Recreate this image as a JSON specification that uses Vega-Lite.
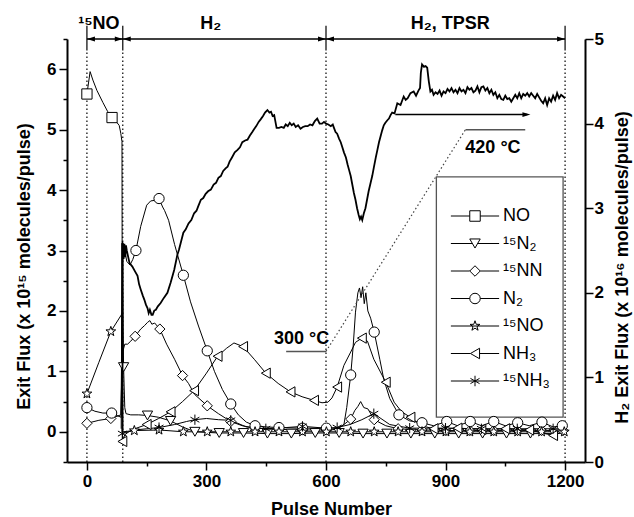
{
  "$schema": "https://vega.github.io/schema/vega-lite/v6.json",
  "width": 518,
  "height": 423,
  "autosize": {"type": "none"},
  "padding": {"left": 67, "top": 39, "right": 49, "bottom": 55},
  "config": {
    "view": {"stroke": null},
    "axis": {"domainColor": "black", "domainWidth": 2, "tickColor": "black", "tickWidth": 1.5, "labelFont": "Liberation Sans", "labelFontSize": 17, "labelFontWeight": "bold", "labelColor": "black", "titleFont": "Liberation Sans", "titleFontSize": 18, "titleFontWeight": "bold", "titleColor": "black", "grid": false}
  },
  "datasets": {
    "series": [
      {"s":"NO","x":0,"y":5.59,"m":1},{"s":"NO","x":8,"y":5.96,"m":0},{"s":"NO","x":15,"y":5.82,"m":0},{"s":"NO","x":25,"y":5.65,"m":0},{"s":"NO","x":40,"y":5.45,"m":0},{"s":"NO","x":52,"y":5.3,"m":0},{"s":"NO","x":63,"y":5.2,"m":1},{"s":"NO","x":75,"y":5.12,"m":0},{"s":"NO","x":81,"y":5.07,"m":0},{"s":"NO","x":85,"y":4.94,"m":0},{"s":"NO","x":88,"y":4.8,"m":0},{"s":"NO","x":89,"y":-0.15,"m":0},
      {"s":"¹⁵N₂","x":86,"y":0.05,"m":0},{"s":"¹⁵N₂","x":88,"y":3.12,"m":0},{"s":"¹⁵N₂","x":90,"y":2.2,"m":0},{"s":"¹⁵N₂","x":92,"y":1.07,"m":1},{"s":"¹⁵N₂","x":95,"y":0.4,"m":0},{"s":"¹⁵N₂","x":98,"y":0.3,"m":0},{"s":"¹⁵N₂","x":110,"y":0.28,"m":0},{"s":"¹⁵N₂","x":130,"y":0.28,"m":0},{"s":"¹⁵N₂","x":152,"y":0.27,"m":1},{"s":"¹⁵N₂","x":180,"y":0.24,"m":0},{"s":"¹⁵N₂","x":210,"y":0.18,"m":1},{"s":"¹⁵N₂","x":240,"y":0.08,"m":0},{"s":"¹⁵N₂","x":271,"y":0.0,"m":1},{"s":"¹⁵N₂","x":302,"y":-0.01,"m":0},{"s":"¹⁵N₂","x":332,"y":-0.02,"m":1},{"s":"¹⁵N₂","x":393,"y":-0.02,"m":1},{"s":"¹⁵N₂","x":453,"y":-0.03,"m":1},{"s":"¹⁵N₂","x":513,"y":-0.03,"m":1},{"s":"¹⁵N₂","x":573,"y":-0.02,"m":1},{"s":"¹⁵N₂","x":633,"y":-0.02,"m":1},{"s":"¹⁵N₂","x":693,"y":-0.03,"m":1},{"s":"¹⁵N₂","x":753,"y":-0.03,"m":1},{"s":"¹⁵N₂","x":813,"y":-0.03,"m":1},{"s":"¹⁵N₂","x":873,"y":-0.03,"m":1},{"s":"¹⁵N₂","x":933,"y":-0.03,"m":1},{"s":"¹⁵N₂","x":993,"y":-0.03,"m":1},{"s":"¹⁵N₂","x":1053,"y":-0.03,"m":1},{"s":"¹⁵N₂","x":1113,"y":-0.03,"m":1},{"s":"¹⁵N₂","x":1173,"y":-0.03,"m":1},{"s":"¹⁵N₂","x":1200,"y":-0.02,"m":0},
      {"s":"¹⁵NN","x":0,"y":0.14,"m":1},{"s":"¹⁵NN","x":30,"y":0.19,"m":0},{"s":"¹⁵NN","x":60,"y":0.22,"m":1},{"s":"¹⁵NN","x":85,"y":0.28,"m":0},{"s":"¹⁵NN","x":89,"y":1.3,"m":0},{"s":"¹⁵NN","x":95,"y":1.45,"m":0},{"s":"¹⁵NN","x":102,"y":1.45,"m":0},{"s":"¹⁵NN","x":110,"y":1.5,"m":0},{"s":"¹⁵NN","x":121,"y":1.58,"m":1},{"s":"¹⁵NN","x":135,"y":1.7,"m":0},{"s":"¹⁵NN","x":145,"y":1.76,"m":0},{"s":"¹⁵NN","x":152,"y":1.81,"m":0},{"s":"¹⁵NN","x":158,"y":1.84,"m":0},{"s":"¹⁵NN","x":163,"y":1.78,"m":0},{"s":"¹⁵NN","x":170,"y":1.8,"m":0},{"s":"¹⁵NN","x":183,"y":1.7,"m":1},{"s":"¹⁵NN","x":200,"y":1.45,"m":0},{"s":"¹⁵NN","x":220,"y":1.2,"m":0},{"s":"¹⁵NN","x":240,"y":0.93,"m":1},{"s":"¹⁵NN","x":255,"y":0.8,"m":0},{"s":"¹⁵NN","x":270,"y":0.62,"m":0},{"s":"¹⁵NN","x":302,"y":0.43,"m":1},{"s":"¹⁵NN","x":330,"y":0.3,"m":0},{"s":"¹⁵NN","x":361,"y":0.17,"m":1},{"s":"¹⁵NN","x":390,"y":0.1,"m":0},{"s":"¹⁵NN","x":422,"y":0.06,"m":1},{"s":"¹⁵NN","x":482,"y":0.04,"m":1},{"s":"¹⁵NN","x":541,"y":0.03,"m":1},{"s":"¹⁵NN","x":601,"y":0.03,"m":1},{"s":"¹⁵NN","x":630,"y":0.05,"m":0},{"s":"¹⁵NN","x":645,"y":0.12,"m":0},{"s":"¹⁵NN","x":662,"y":0.21,"m":1},{"s":"¹⁵NN","x":672,"y":0.35,"m":0},{"s":"¹⁵NN","x":680,"y":0.42,"m":0},{"s":"¹⁵NN","x":687,"y":0.5,"m":0},{"s":"¹⁵NN","x":695,"y":0.4,"m":0},{"s":"¹⁵NN","x":705,"y":0.38,"m":0},{"s":"¹⁵NN","x":721,"y":0.2,"m":1},{"s":"¹⁵NN","x":750,"y":0.1,"m":0},{"s":"¹⁵NN","x":781,"y":0.05,"m":1},{"s":"¹⁵NN","x":841,"y":0.03,"m":1},{"s":"¹⁵NN","x":901,"y":0.02,"m":1},{"s":"¹⁵NN","x":961,"y":0.02,"m":1},{"s":"¹⁵NN","x":1021,"y":0.02,"m":1},{"s":"¹⁵NN","x":1081,"y":0.02,"m":1},{"s":"¹⁵NN","x":1141,"y":0.02,"m":1},{"s":"¹⁵NN","x":1195,"y":0.02,"m":1},
      {"s":"N₂","x":0,"y":0.4,"m":1},{"s":"N₂","x":20,"y":0.34,"m":0},{"s":"N₂","x":40,"y":0.31,"m":0},{"s":"N₂","x":62,"y":0.31,"m":1},{"s":"N₂","x":75,"y":0.27,"m":0},{"s":"N₂","x":86,"y":0.24,"m":0},{"s":"N₂","x":89,"y":3.15,"m":0},{"s":"N₂","x":95,"y":3.0,"m":0},{"s":"N₂","x":100,"y":2.82,"m":0},{"s":"N₂","x":108,"y":2.76,"m":0},{"s":"N₂","x":115,"y":2.85,"m":0},{"s":"N₂","x":123,"y":3.0,"m":1},{"s":"N₂","x":135,"y":3.4,"m":0},{"s":"N₂","x":150,"y":3.75,"m":0},{"s":"N₂","x":160,"y":3.82,"m":0},{"s":"N₂","x":170,"y":3.83,"m":0},{"s":"N₂","x":181,"y":3.86,"m":1},{"s":"N₂","x":190,"y":3.72,"m":0},{"s":"N₂","x":195,"y":3.66,"m":0},{"s":"N₂","x":205,"y":3.5,"m":0},{"s":"N₂","x":220,"y":3.1,"m":0},{"s":"N₂","x":242,"y":2.59,"m":1},{"s":"N₂","x":260,"y":2.15,"m":0},{"s":"N₂","x":280,"y":1.75,"m":0},{"s":"N₂","x":302,"y":1.34,"m":1},{"s":"N₂","x":320,"y":1.0,"m":0},{"s":"N₂","x":340,"y":0.7,"m":0},{"s":"N₂","x":361,"y":0.46,"m":1},{"s":"N₂","x":380,"y":0.28,"m":0},{"s":"N₂","x":400,"y":0.16,"m":0},{"s":"N₂","x":422,"y":0.1,"m":1},{"s":"N₂","x":450,"y":0.08,"m":0},{"s":"N₂","x":482,"y":0.07,"m":1},{"s":"N₂","x":541,"y":0.06,"m":1},{"s":"N₂","x":601,"y":0.06,"m":1},{"s":"N₂","x":630,"y":0.06,"m":0},{"s":"N₂","x":645,"y":0.12,"m":0},{"s":"N₂","x":652,"y":0.4,"m":0},{"s":"N₂","x":662,"y":0.94,"m":1},{"s":"N₂","x":668,"y":1.4,"m":0},{"s":"N₂","x":674,"y":1.98,"m":0},{"s":"N₂","x":680,"y":2.3,"m":0},{"s":"N₂","x":684,"y":2.38,"m":0},{"s":"N₂","x":688,"y":2.22,"m":0},{"s":"N₂","x":692,"y":2.4,"m":0},{"s":"N₂","x":696,"y":2.12,"m":0},{"s":"N₂","x":700,"y":2.3,"m":0},{"s":"N₂","x":705,"y":2.0,"m":0},{"s":"N₂","x":712,"y":1.88,"m":0},{"s":"N₂","x":721,"y":1.65,"m":1},{"s":"N₂","x":735,"y":1.2,"m":0},{"s":"N₂","x":745,"y":0.87,"m":0},{"s":"N₂","x":760,"y":0.55,"m":0},{"s":"N₂","x":783,"y":0.28,"m":1},{"s":"N₂","x":810,"y":0.18,"m":0},{"s":"N₂","x":841,"y":0.15,"m":1},{"s":"N₂","x":870,"y":0.1,"m":0},{"s":"N₂","x":903,"y":0.17,"m":1},{"s":"N₂","x":930,"y":0.1,"m":0},{"s":"N₂","x":962,"y":0.17,"m":1},{"s":"N₂","x":990,"y":0.1,"m":0},{"s":"N₂","x":1021,"y":0.17,"m":1},{"s":"N₂","x":1050,"y":0.1,"m":0},{"s":"N₂","x":1081,"y":0.15,"m":1},{"s":"N₂","x":1110,"y":0.1,"m":0},{"s":"N₂","x":1142,"y":0.16,"m":1},{"s":"N₂","x":1170,"y":0.08,"m":0},{"s":"N₂","x":1193,"y":0.1,"m":1},
      {"s":"¹⁵NO","x":0,"y":0.63,"m":1},{"s":"¹⁵NO","x":30,"y":1.15,"m":0},{"s":"¹⁵NO","x":60,"y":1.66,"m":1},{"s":"¹⁵NO","x":85,"y":1.92,"m":0},{"s":"¹⁵NO","x":89,"y":1.97,"m":0},{"s":"¹⁵NO","x":90,"y":0.0,"m":0},{"s":"¹⁵NO","x":119,"y":0.02,"m":1},{"s":"¹⁵NO","x":181,"y":0.03,"m":1},{"s":"¹⁵NO","x":242,"y":0.0,"m":1},{"s":"¹⁵NO","x":302,"y":0.0,"m":1},{"s":"¹⁵NO","x":361,"y":0.0,"m":1},{"s":"¹⁵NO","x":422,"y":0.0,"m":1},{"s":"¹⁵NO","x":482,"y":0.0,"m":1},{"s":"¹⁵NO","x":541,"y":0.0,"m":1},{"s":"¹⁵NO","x":601,"y":0.0,"m":1},{"s":"¹⁵NO","x":662,"y":0.0,"m":1},{"s":"¹⁵NO","x":721,"y":0.0,"m":1},{"s":"¹⁵NO","x":781,"y":0.0,"m":1},{"s":"¹⁵NO","x":841,"y":0.0,"m":1},{"s":"¹⁵NO","x":901,"y":0.0,"m":1},{"s":"¹⁵NO","x":961,"y":0.0,"m":1},{"s":"¹⁵NO","x":1021,"y":0.0,"m":1},{"s":"¹⁵NO","x":1081,"y":0.0,"m":1},{"s":"¹⁵NO","x":1141,"y":0.0,"m":1},{"s":"¹⁵NO","x":1198,"y":0.0,"m":1},
      {"s":"NH₃","x":89,"y":-0.16,"m":1},{"s":"NH₃","x":95,"y":-0.05,"m":0},{"s":"NH₃","x":105,"y":0.0,"m":0},{"s":"NH₃","x":120,"y":0.05,"m":0},{"s":"NH₃","x":150,"y":0.12,"m":1},{"s":"NH₃","x":180,"y":0.22,"m":0},{"s":"NH₃","x":210,"y":0.33,"m":1},{"s":"NH₃","x":240,"y":0.5,"m":0},{"s":"NH₃","x":269,"y":0.68,"m":1},{"s":"NH₃","x":300,"y":0.97,"m":0},{"s":"NH₃","x":328,"y":1.25,"m":1},{"s":"NH₃","x":350,"y":1.38,"m":0},{"s":"NH₃","x":369,"y":1.47,"m":0},{"s":"NH₃","x":392,"y":1.41,"m":1},{"s":"NH₃","x":420,"y":1.2,"m":0},{"s":"NH₃","x":449,"y":0.97,"m":1},{"s":"NH₃","x":480,"y":0.8,"m":0},{"s":"NH₃","x":511,"y":0.66,"m":1},{"s":"NH₃","x":540,"y":0.58,"m":0},{"s":"NH₃","x":570,"y":0.52,"m":1},{"s":"NH₃","x":590,"y":0.48,"m":0},{"s":"NH₃","x":605,"y":0.49,"m":0},{"s":"NH₃","x":615,"y":0.56,"m":0},{"s":"NH₃","x":628,"y":0.74,"m":1},{"s":"NH₃","x":645,"y":1.1,"m":0},{"s":"NH₃","x":662,"y":1.32,"m":0},{"s":"NH₃","x":674,"y":1.48,"m":0},{"s":"NH₃","x":690,"y":1.55,"m":1},{"s":"NH₃","x":704,"y":1.5,"m":0},{"s":"NH₃","x":720,"y":1.2,"m":0},{"s":"NH₃","x":750,"y":0.82,"m":1},{"s":"NH₃","x":771,"y":0.49,"m":0},{"s":"NH₃","x":790,"y":0.33,"m":0},{"s":"NH₃","x":812,"y":0.24,"m":1},{"s":"NH₃","x":840,"y":0.1,"m":0},{"s":"NH₃","x":870,"y":0.05,"m":1},{"s":"NH₃","x":930,"y":0.06,"m":1},{"s":"NH₃","x":990,"y":0.04,"m":1},{"s":"NH₃","x":1050,"y":0.05,"m":1},{"s":"NH₃","x":1110,"y":0.03,"m":1},{"s":"NH₃","x":1170,"y":-0.06,"m":1},{"s":"NH₃","x":1195,"y":0.0,"m":0},
      {"s":"¹⁵NH₃","x":89,"y":-0.03,"m":1},{"s":"¹⁵NH₃","x":120,"y":0.03,"m":0},{"s":"¹⁵NH₃","x":150,"y":0.05,"m":0},{"s":"¹⁵NH₃","x":181,"y":0.07,"m":1},{"s":"¹⁵NH₃","x":220,"y":0.12,"m":0},{"s":"¹⁵NH₃","x":250,"y":0.17,"m":0},{"s":"¹⁵NH₃","x":271,"y":0.2,"m":1},{"s":"¹⁵NH₃","x":300,"y":0.22,"m":0},{"s":"¹⁵NH₃","x":330,"y":0.2,"m":0},{"s":"¹⁵NH₃","x":361,"y":0.19,"m":1},{"s":"¹⁵NH₃","x":400,"y":0.08,"m":0},{"s":"¹⁵NH₃","x":449,"y":0.05,"m":1},{"s":"¹⁵NH₃","x":500,"y":0.07,"m":0},{"s":"¹⁵NH₃","x":541,"y":0.09,"m":1},{"s":"¹⁵NH₃","x":600,"y":0.06,"m":0},{"s":"¹⁵NH₃","x":628,"y":0.07,"m":1},{"s":"¹⁵NH₃","x":660,"y":0.12,"m":0},{"s":"¹⁵NH₃","x":690,"y":0.2,"m":0},{"s":"¹⁵NH₃","x":720,"y":0.3,"m":1},{"s":"¹⁵NH₃","x":760,"y":0.12,"m":0},{"s":"¹⁵NH₃","x":810,"y":0.06,"m":1},{"s":"¹⁵NH₃","x":900,"y":0.06,"m":1},{"s":"¹⁵NH₃","x":990,"y":0.05,"m":1},{"s":"¹⁵NH₃","x":1080,"y":0.05,"m":1},{"s":"¹⁵NH₃","x":1170,"y":0.05,"m":1},{"s":"¹⁵NH₃","x":1200,"y":0.04,"m":0}
    ],
    "h2": [
      {"x":89,"y":0.35},{"x":90,"y":2.59},{"x":92,"y":2.4},{"x":94,"y":2.58},{"x":96,"y":2.42},{"x":98,"y":2.56},{"x":100,"y":2.5},{"x":107,"y":2.35},{"x":114,"y":2.31},{"x":121,"y":2.25},{"x":127,"y":2.2},{"x":131,"y":2.1},{"x":135,"y":2.04},{"x":140,"y":1.97},{"x":144,"y":1.92},{"x":148,"y":1.86},{"x":152,"y":1.82},{"x":155,"y":1.76},{"x":158,"y":1.8},{"x":162,"y":1.74},{"x":165,"y":1.74},{"x":169,"y":1.79},{"x":173,"y":1.8},{"x":178,"y":1.84},{"x":185,"y":1.88},{"x":193,"y":1.94},{"x":202,"y":2.0},{"x":210,"y":2.12},{"x":219,"y":2.27},{"x":227,"y":2.45},{"x":231,"y":2.51},{"x":236,"y":2.6},{"x":242,"y":2.71},{"x":248,"y":2.75},{"x":255,"y":2.82},{"x":262,"y":2.86},{"x":269,"y":2.94},{"x":275,"y":2.97},{"x":280,"y":3.03},{"x":286,"y":3.1},{"x":292,"y":3.12},{"x":298,"y":3.17},{"x":304,"y":3.2},{"x":311,"y":3.22},{"x":318,"y":3.28},{"x":324,"y":3.3},{"x":330,"y":3.36},{"x":336,"y":3.38},{"x":342,"y":3.44},{"x":348,"y":3.47},{"x":353,"y":3.49},{"x":358,"y":3.55},{"x":364,"y":3.6},{"x":371,"y":3.66},{"x":378,"y":3.69},{"x":384,"y":3.72},{"x":390,"y":3.78},{"x":397,"y":3.8},{"x":403,"y":3.81},{"x":409,"y":3.86},{"x":415,"y":3.9},{"x":419,"y":3.93},{"x":425,"y":3.97},{"x":431,"y":4.02},{"x":436,"y":4.05},{"x":442,"y":4.09},{"x":447,"y":4.13},{"x":453,"y":4.16},{"x":458,"y":4.13},{"x":462,"y":4.14},{"x":466,"y":4.09},{"x":470,"y":4.1},{"x":476,"y":3.95},{"x":482,"y":3.95},{"x":488,"y":3.96},{"x":494,"y":3.95},{"x":499,"y":3.99},{"x":504,"y":3.97},{"x":509,"y":4.01},{"x":514,"y":3.98},{"x":519,"y":4.0},{"x":524,"y":3.96},{"x":530,"y":3.98},{"x":536,"y":3.94},{"x":542,"y":3.96},{"x":548,"y":3.97},{"x":554,"y":3.97},{"x":560,"y":3.99},{"x":566,"y":3.98},{"x":572,"y":4.03},{"x":578,"y":4.06},{"x":584,"y":4.0},{"x":590,"y":4.0},{"x":595,"y":4.02},{"x":600,"y":4.0},{"x":606,"y":3.99},{"x":612,"y":3.97},{"x":617,"y":3.99},{"x":620,"y":3.95},{"x":624,"y":3.9},{"x":628,"y":3.88},{"x":633,"y":3.82},{"x":637,"y":3.78},{"x":641,"y":3.72},{"x":645,"y":3.66},{"x":650,"y":3.6},{"x":654,"y":3.52},{"x":658,"y":3.45},{"x":662,"y":3.38},{"x":666,"y":3.28},{"x":670,"y":3.18},{"x":674,"y":3.1},{"x":678,"y":3.0},{"x":682,"y":2.92},{"x":685,"y":2.87},{"x":688,"y":2.9},{"x":691,"y":2.86},{"x":695,"y":2.94},{"x":699,"y":3.0},{"x":703,"y":3.1},{"x":707,"y":3.2},{"x":712,"y":3.3},{"x":716,"y":3.38},{"x":720,"y":3.48},{"x":725,"y":3.6},{"x":729,"y":3.69},{"x":733,"y":3.78},{"x":737,"y":3.85},{"x":741,"y":3.92},{"x":745,"y":3.98},{"x":749,"y":4.01},{"x":754,"y":4.04},{"x":758,"y":4.06},{"x":762,"y":4.1},{"x":766,"y":4.13},{"x":772,"y":4.12},{"x":779,"y":4.24},{"x":787,"y":4.22},{"x":795,"y":4.32},{"x":800,"y":4.28},{"x":805,"y":4.3},{"x":812,"y":4.36},{"x":820,"y":4.38},{"x":826,"y":4.33},{"x":832,"y":4.39},{"x":836,"y":4.42},{"x":838,"y":4.6},{"x":841,"y":4.7},{"x":846,"y":4.67},{"x":850,"y":4.68},{"x":854,"y":4.66},{"x":858,"y":4.5},{"x":862,"y":4.38},{"x":866,"y":4.4},{"x":870,"y":4.34},{"x":875,"y":4.37},{"x":880,"y":4.35},{"x":885,"y":4.39},{"x":890,"y":4.33},{"x":895,"y":4.38},{"x":900,"y":4.36},{"x":905,"y":4.41},{"x":910,"y":4.38},{"x":915,"y":4.42},{"x":920,"y":4.37},{"x":925,"y":4.4},{"x":930,"y":4.36},{"x":935,"y":4.42},{"x":940,"y":4.38},{"x":945,"y":4.4},{"x":950,"y":4.36},{"x":955,"y":4.43},{"x":960,"y":4.4},{"x":965,"y":4.42},{"x":970,"y":4.37},{"x":975,"y":4.39},{"x":980,"y":4.44},{"x":985,"y":4.37},{"x":990,"y":4.43},{"x":995,"y":4.44},{"x":1000,"y":4.39},{"x":1005,"y":4.42},{"x":1010,"y":4.36},{"x":1015,"y":4.4},{"x":1020,"y":4.34},{"x":1025,"y":4.37},{"x":1030,"y":4.3},{"x":1035,"y":4.34},{"x":1040,"y":4.29},{"x":1045,"y":4.28},{"x":1050,"y":4.33},{"x":1055,"y":4.29},{"x":1060,"y":4.3},{"x":1065,"y":4.26},{"x":1070,"y":4.3},{"x":1075,"y":4.34},{"x":1080,"y":4.3},{"x":1085,"y":4.36},{"x":1090,"y":4.3},{"x":1095,"y":4.35},{"x":1100,"y":4.33},{"x":1105,"y":4.36},{"x":1110,"y":4.32},{"x":1115,"y":4.36},{"x":1120,"y":4.33},{"x":1125,"y":4.3},{"x":1130,"y":4.35},{"x":1135,"y":4.31},{"x":1140,"y":4.27},{"x":1145,"y":4.24},{"x":1150,"y":4.3},{"x":1155,"y":4.22},{"x":1160,"y":4.3},{"x":1165,"y":4.26},{"x":1170,"y":4.33},{"x":1175,"y":4.28},{"x":1180,"y":4.36},{"x":1185,"y":4.3},{"x":1190,"y":4.34},{"x":1195,"y":4.32},{"x":1200,"y":4.3}
    ],
    "dots": [{"x":0,"y":-0.5,"y2":6.31},{"x":90,"y":-0.5,"y2":6.31},{"x":600,"y":-0.5,"y2":6.31},{"x":1200,"y":-0.5,"y2":6.31}],
    "ticks": [{"x":0,"y":6.31,"y2":6.72},{"x":90,"y":6.31,"y2":6.72},{"x":600,"y":6.31,"y2":6.72},{"x":1200,"y":6.31,"y2":6.72}],
    "heads": [
      {"x":10,"y":6.5,"d":"l"},{"x":80,"y":6.5,"d":"r"},{"x":100,"y":6.5,"d":"l"},{"x":590,"y":6.5,"d":"r"},{"x":610,"y":6.5,"d":"l"},{"x":1190,"y":6.5,"d":"r"},{"x":1103,"y":5.25,"d":"r"}
    ],
    "segs": [
      {"x":500,"x2":600,"y":1.33,"y2":1.33,"k":"gray"},
      {"x":950,"x2":1100,"y":5.0,"y2":5.0,"k":"gray"},
      {"x":774,"x2":1105,"y":5.25,"y2":5.25,"k":"arrow"},
      {"x":0,"x2":1200,"y":6.5,"y2":6.5,"k":"arrow"}
    ],
    "diag": [{"x":600,"x2":950,"y":1.33,"y2":5.0}],
    "box": [{"x":877,"x2":1195,"y":0.244,"y2":4.22}],
    "texts": [
      {"x":30,"y":6.67,"t":"¹⁵NO"},{"x":311,"y":6.67,"t":"H₂"},{"x":912,"y":6.67,"t":"H₂, TPSR"},{"x":539,"y":1.45,"t":"300 °C"},{"x":1019,"y":4.62,"t":"420 °C"}
    ],
    "leg": [
      {"s":"NO","x":0,"y":0},{"s":"¹⁵N₂","x":0,"y":0},{"s":"¹⁵NN","x":0,"y":0},{"s":"N₂","x":0,"y":0},{"s":"¹⁵NO","x":0,"y":0},{"s":"NH₃","x":0,"y":0},{"s":"¹⁵NH₃","x":0,"y":0}
    ]
  },
  "layer": [
    {
      "encoding": {
        "x": {"field": "x", "type": "quantitative", "scale": {"domain": [-50, 1250], "nice": false, "zero": false},
          "axis": {"values": [0,150,300,450,600,750,900,1050,1200], "format": "d", "labelExpr": "datum.value % 300 === 0 ? datum.label : ''", "tickSize": {"condition": {"test": "datum.value % 300 !== 0", "value": 4}, "value": 8}, "labelPadding": 3, "labelFlush": false, "labelOverlap": false, "title": "Pulse Number", "titleX": 264, "titleY": 47, "titleBaseline": "middle"}},
        "y": {"field": "y", "type": "quantitative", "scale": {"domain": [-0.5, 6.5], "nice": false, "zero": false},
          "axis": {"values": [-0.5,0,0.5,1,1.5,2,2.5,3,3.5,4,4.5,5,5.5,6,6.5], "labelExpr": "datum.value === 0 ? '0' : datum.value % 1 === 0 ? format(datum.value, 'd') : ''", "tickSize": {"condition": {"test": "datum.value % 1 !== 0", "value": 4}, "value": 8}, "labelPadding": 3, "labelOverlap": false, "title": "Exit Flux (x 10¹⁵ molecules/pulse)", "titleX": -43, "titleY": 227, "titleAngle": 270, "titleBaseline": "middle", "titleAlign": "center"}}
      },
      "layer": [
        {"data": {"name": "dots"}, "mark": {"type": "rule", "color": "black", "strokeWidth": 1.2, "strokeDash": [1.5, 2.5]}, "encoding": {"y2": {"field": "y2"}}},
        {"data": {"name": "ticks"}, "mark": {"type": "rule", "color": "black", "strokeWidth": 1.2}, "encoding": {"y2": {"field": "y2"}}},
        {"data": {"name": "series"}, "mark": {"type": "line", "color": "black", "strokeWidth": 1}, "encoding": {"detail": {"field": "s"}}},
        {"data": {"name": "diag"}, "mark": {"type": "rule", "color": "#444", "strokeWidth": 1.2, "strokeDash": [1.5, 2.5]}, "encoding": {"x2": {"field": "x2"}, "y2": {"field": "y2"}}},
        {"data": {"name": "segs"}, "transform": [{"filter": "datum.k === 'gray'"}], "mark": {"type": "rule", "color": "#555", "strokeWidth": 1.5}, "encoding": {"x2": {"field": "x2"}, "y2": {"field": "y2"}}},
        {"data": {"name": "segs"}, "transform": [{"filter": "datum.k === 'arrow'"}], "mark": {"type": "rule", "color": "black", "strokeWidth": 1.5}, "encoding": {"x2": {"field": "x2"}, "y2": {"field": "y2"}}},
        {"data": {"name": "box"}, "mark": {"type": "rect", "fill": "white", "stroke": "#555", "strokeWidth": 1.3}, "encoding": {"x2": {"field": "x2"}, "y2": {"field": "y2"}}},
        {"data": {"name": "series"}, "transform": [{"filter": "datum.m === 1"}], "mark": {"type": "point", "filled": true, "fill": "white", "stroke": "black", "strokeWidth": 1, "opacity": 1, "size": 105},
          "encoding": {"shape": {"field": "s", "type": "nominal", "legend": null, "scale": {"domain": ["NO","¹⁵N₂","¹⁵NN","N₂","¹⁵NO","NH₃","¹⁵NH₃"], "range": ["square","triangle-down","diamond","circle","M0,-1L0.235,-0.324L0.951,-0.309L0.38,0.124L0.588,0.809L0,0.4L-0.588,0.809L-0.38,0.124L-0.951,-0.309L-0.235,-0.324Z","triangle-left","M0,-1V1M-0.87,-0.5L0.87,0.5M-0.87,0.5L0.87,-0.5"]}}}},
        {"data": {"name": "heads"}, "transform": [{"filter": "datum.d === 'l'"}], "mark": {"type": "point", "shape": "M-1,0L1,-0.6L1,0.6Z", "filled": true, "color": "black", "opacity": 1, "size": 64}},
        {"data": {"name": "heads"}, "transform": [{"filter": "datum.d === 'r'"}], "mark": {"type": "point", "shape": "M1,0L-1,-0.6L-1,0.6Z", "filled": true, "color": "black", "opacity": 1, "size": 64}},
        {"data": {"name": "texts"}, "mark": {"type": "text", "font": "Liberation Sans", "fontSize": 18, "fontWeight": "bold", "color": "black", "align": "center", "baseline": "alphabetic"}, "encoding": {"text": {"field": "t"}}},
        {"data": {"name": "leg"}, "mark": {"type": "point", "opacity": 0},
          "encoding": {"shape": {"field": "s", "type": "nominal",
            "scale": {"domain": ["NO","¹⁵N₂","¹⁵NN","N₂","¹⁵NO","NH₃","¹⁵NH₃"], "range": [
              "M-4.6,0H-1M1,0H4.6M-1,-1H1V1H-1Z",
              "M-4.6,0H-0.5M0.5,0H4.6M-1,-0.866H1L0,0.866Z",
              "M-4.6,0H-1M1,0H4.6M0,-1L1,0L0,1L-1,0Z",
              "M-4.6,0H-1M1,0H4.6M1,0A1,1,0,1,1,-1,0A1,1,0,1,1,1,0Z",
              "M-4.6,0H4.6M0,-1L0.235,-0.324L0.951,-0.309L0.38,0.124L0.588,0.809L0,0.4L-0.588,0.809L-0.38,0.124L-0.951,-0.309L-0.235,-0.324Z",
              "M-4.6,0H-0.87M0.87,0H4.6M-0.87,0L0.87,1L0.87,-1Z",
              "M-4.6,0H4.6M0,-1V1M-0.87,-0.5L0.87,0.5M-0.87,0.5L0.87,-0.5"]},
            "legend": {"orient": "none", "legendX": 381, "legendY": 168, "title": null, "padding": 0, "symbolSize": 110, "symbolStrokeColor": "black", "symbolFillColor": "white", "symbolStrokeWidth": 1, "symbolOpacity": 1, "labelFont": "Liberation Sans", "labelFontSize": 18, "labelColor": "black", "rowPadding": 9.5, "symbolOffset": 18, "labelOffset": 19, "labelLimit": 200}}}}
      ],
      "resolve": {"scale": {"shape": "independent"}}
    },
    {
      "data": {"name": "h2"},
      "mark": {"type": "line", "color": "black", "strokeWidth": 1.8},
      "encoding": {
        "x": {"field": "x", "type": "quantitative", "scale": {"domain": [-50, 1250], "nice": false, "zero": false},
          "axis": {"values": [0,150,300,450,600,750,900,1050,1200], "format": "d", "labelExpr": "datum.value % 300 === 0 ? datum.label : ''", "tickSize": {"condition": {"test": "datum.value % 300 !== 0", "value": 4}, "value": 8}, "labelPadding": 3, "labelFlush": false, "labelOverlap": false, "title": "Pulse Number", "titleX": 264, "titleY": 47, "titleBaseline": "middle"}},
        "y": {"field": "y", "type": "quantitative", "scale": {"domain": [0, 5], "nice": false, "zero": false},
          "axis": {"orient": "right", "values": [0,0.5,1,1.5,2,2.5,3,3.5,4,4.5,5], "format": "d", "labelExpr": "datum.value % 1 === 0 ? datum.label : ''", "tickSize": {"condition": {"test": "datum.value % 1 !== 0", "value": 4}, "value": 8}, "labelPadding": 1, "labelOverlap": false, "title": "H₂ Exit Flux (x 10¹⁶ molecules/pulse)", "titleX": 37, "titleY": 228, "titleAngle": 270, "titleBaseline": "middle", "titleAlign": "center"}}
      }
    }
  ],
  "resolve": {"scale": {"y": "independent"}, "axis": {"y": "independent"}}
}
